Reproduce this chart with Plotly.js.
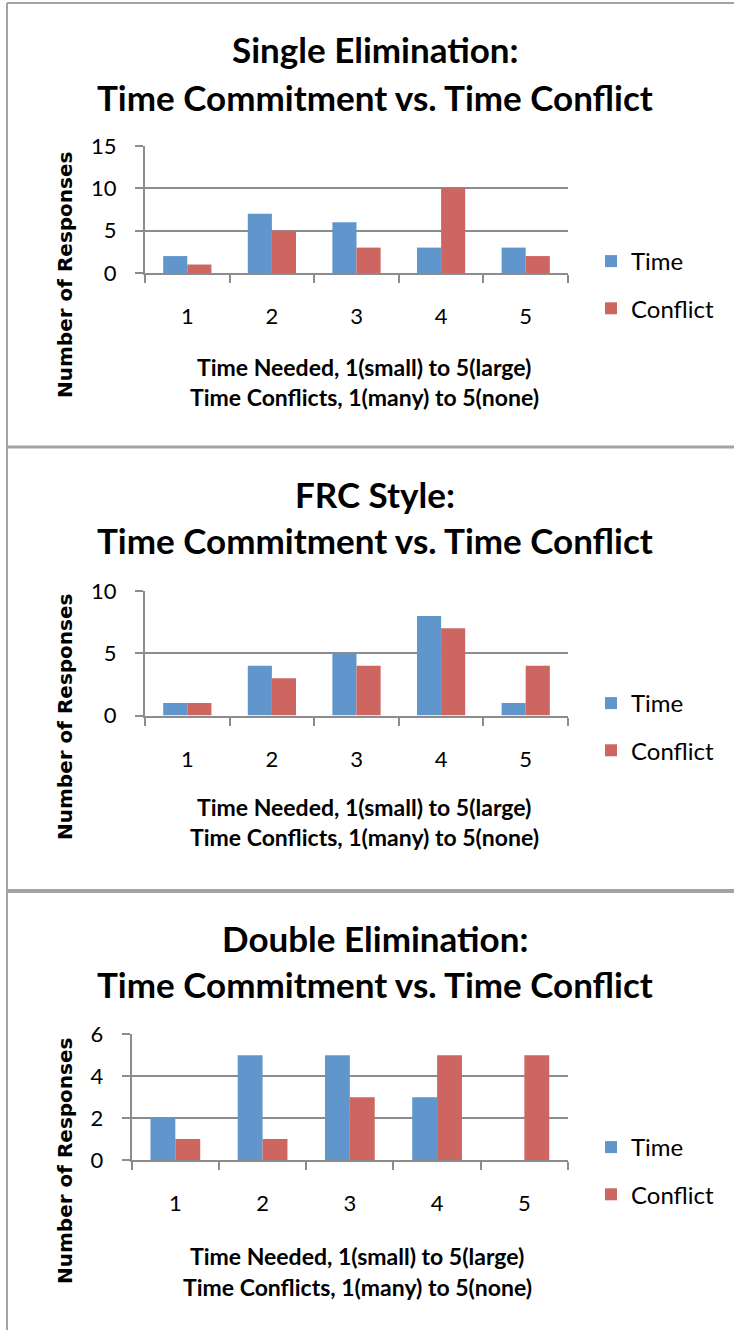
<!DOCTYPE html>
<html>
<head>
<meta charset="utf-8">
<script src="https://cdn.plot.ly/plotly-3.0.1.min.js"></script>
<style>
  html, body { margin: 0; padding: 0; background: #ffffff; }
  #chart { width: 734px; height: 1330px; }
</style>
</head>
<body>
<div id="chart"></div>
<script>
// ---- data ----
const categories = ['1', '2', '3', '4', '5'];
const seriesNames = ['Time', 'Conflict'];

const singleTitle = ['Single Elimination:', 'Time Commitment vs. Time Conflict'];
const singleTime = [2, 7, 6, 3, 3];
const singleConflict = [1, 5, 3, 10, 2];

const frcTitle = ['FRC Style:', 'Time Commitment vs. Time Conflict'];
const frcTime = [1, 4, 5, 8, 1];
const frcConflict = [1, 3, 4, 7, 4];

const doubleTitle = ['Double Elimination:', 'Time Commitment vs. Time Conflict'];
const doubleTime = [2, 5, 5, 3, 0];
const doubleConflict = [1, 1, 3, 5, 5];

const yTitle = 'Number of Responses';
const xTitleLines = ['Time Needed, 1(small) to 5(large)', 'Time Conflicts, 1(many) to 5(none)'];

// ---- styling / geometry (pixels) ----
const W = 734, H = 1330;
const FONT = 'Lato, "Open Sans", sans-serif';
const YFONT = '"DejaVu Sans", Verdana, sans-serif';
const BLUE = '#6096cb';
const RED = '#cd6560';
const GRID = '#8c8c8c';
const BORDER = '#a3a3a3';

const px = v => v / W;
const py = v => 1 - v / H;

const panels = [
  { title: singleTitle, time: singleTime, conflict: singleConflict,
    x0: 145, x1: 568, top: 146, bottom: 273, range: [0, 15], dtick: 5,
    titleY: [49, 97], xtY: [367, 397], xtX: 364, ytY: 275, legY: 260 },
  { title: frcTitle, time: frcTime, conflict: frcConflict,
    x0: 145, x1: 568, top: 591, bottom: 715.5, range: [0, 10], dtick: 5,
    titleY: [494, 540], xtY: [807, 837], xtX: 364, ytY: 717, legY: 702 },
  { title: doubleTitle, time: doubleTime, conflict: doubleConflict,
    x0: 131.7, x1: 568, top: 1034.3, bottom: 1160, range: [0, 6], dtick: 2,
    titleY: [938, 984], xtY: [1256, 1287], xtX: 357, ytY: 1161, legY: 1146 }
];

const traces = [];
const layout = {
  width: W, height: H,
  margin: { l: 0, r: 0, t: 0, b: 0 },
  paper_bgcolor: '#ffffff',
  plot_bgcolor: '#ffffff',
  font: { family: FONT, color: '#000000', size: 20 },
  barmode: 'group',
  bargap: 0.43,
  bargroupgap: 0,
  annotations: [],
  shapes: []
};

panels.forEach((p, i) => {
  const n = i + 1;
  const xa = n === 1 ? 'x' : 'x' + n;
  const ya = n === 1 ? 'y' : 'y' + n;
  const lg = n === 1 ? 'legend' : 'legend' + n;
  [[p.time, BLUE, seriesNames[0]], [p.conflict, RED, seriesNames[1]]].forEach(([vals, col, name]) => {
    traces.push({
      type: 'bar', x: categories, y: vals, name: name,
      xaxis: xa, yaxis: ya, legend: lg, legendgroup: name + n,
      marker: { color: col, line: { width: 0 } },
      hoverinfo: 'x+y+name'
    });
  });
  layout[n === 1 ? 'xaxis' : 'xaxis' + n] = {
    domain: [px(p.x0), px(p.x1)], anchor: ya, type: 'category',
    showgrid: false, showline: true, linecolor: GRID, linewidth: 2,
    ticks: 'outside', tickson: 'boundaries', ticklen: 8, tickwidth: 2, tickcolor: GRID,
    ticklabelstandoff: 23,
    tickfont: { family: FONT, size: 22, color: '#000' },
    fixedrange: true
  };
  layout[n === 1 ? 'yaxis' : 'yaxis' + n] = {
    domain: [py(p.bottom), py(p.top)], anchor: xa,
    range: p.range, dtick: p.dtick, tick0: 0,
    showgrid: true, gridcolor: GRID, gridwidth: 2,
    zeroline: false, showline: true, linecolor: GRID, linewidth: 2,
    ticks: 'outside', ticklen: 8, tickwidth: 2, tickcolor: GRID,
    ticklabelstandoff: 14,
    tickfont: { family: FONT, size: 22, color: '#000' },
    fixedrange: true
  };
  layout[lg] = {
    x: px(591), xanchor: 'left', y: py(p.legY - 21), yanchor: 'top',
    traceorder: 'grouped', tracegroupgap: 13,
    font: { family: FONT, size: 24, color: '#000' },
    bgcolor: 'rgba(0,0,0,0)', borderwidth: 0
  };
  // titles
  p.title.forEach((t, k) => {
    layout.annotations.push({
      text: '<b>' + t + '</b>', xref: 'paper', yref: 'paper',
      x: px(375), y: py(p.titleY[k]), xanchor: 'center', yanchor: 'middle',
      showarrow: false, font: { family: FONT, size: 35, color: '#000' }
    });
  });
  // x axis title (two lines)
  xTitleLines.forEach((t, k) => {
    layout.annotations.push({
      text: '<b>' + t + '</b>', xref: 'paper', yref: 'paper',
      x: px(p.xtX), y: py(p.xtY[k]), xanchor: 'center', yanchor: 'middle',
      showarrow: false, font: { family: FONT, size: 23, color: '#000' }
    });
  });
  // y axis title
  layout.annotations.push({
    text: '<b>' + yTitle + '</b>', xref: 'paper', yref: 'paper',
    x: px(65), y: py(p.ytY), xanchor: 'center', yanchor: 'middle', textangle: -90,
    showarrow: false, font: { family: YFONT, size: 20, color: '#000' }
  });
});

// panel borders
const line = (x0, y0, x1, y1, w) => ({
  type: 'line', xref: 'paper', yref: 'paper',
  x0: px(x0), y0: py(y0), x1: px(x1), y1: py(y1),
  line: { color: BORDER, width: w }, layer: 'below'
});
layout.shapes.push(line(7, 3, 7, 1330, 2));
layout.shapes.push(line(7, 3, 734, 3, 2));
layout.shapes.push(line(7, 447, 734, 447, 3));
layout.shapes.push(line(7, 891, 734, 891, 4));

Plotly.newPlot('chart', traces, layout, { displayModeBar: false, staticPlot: true });
</script>
</body>
</html>
